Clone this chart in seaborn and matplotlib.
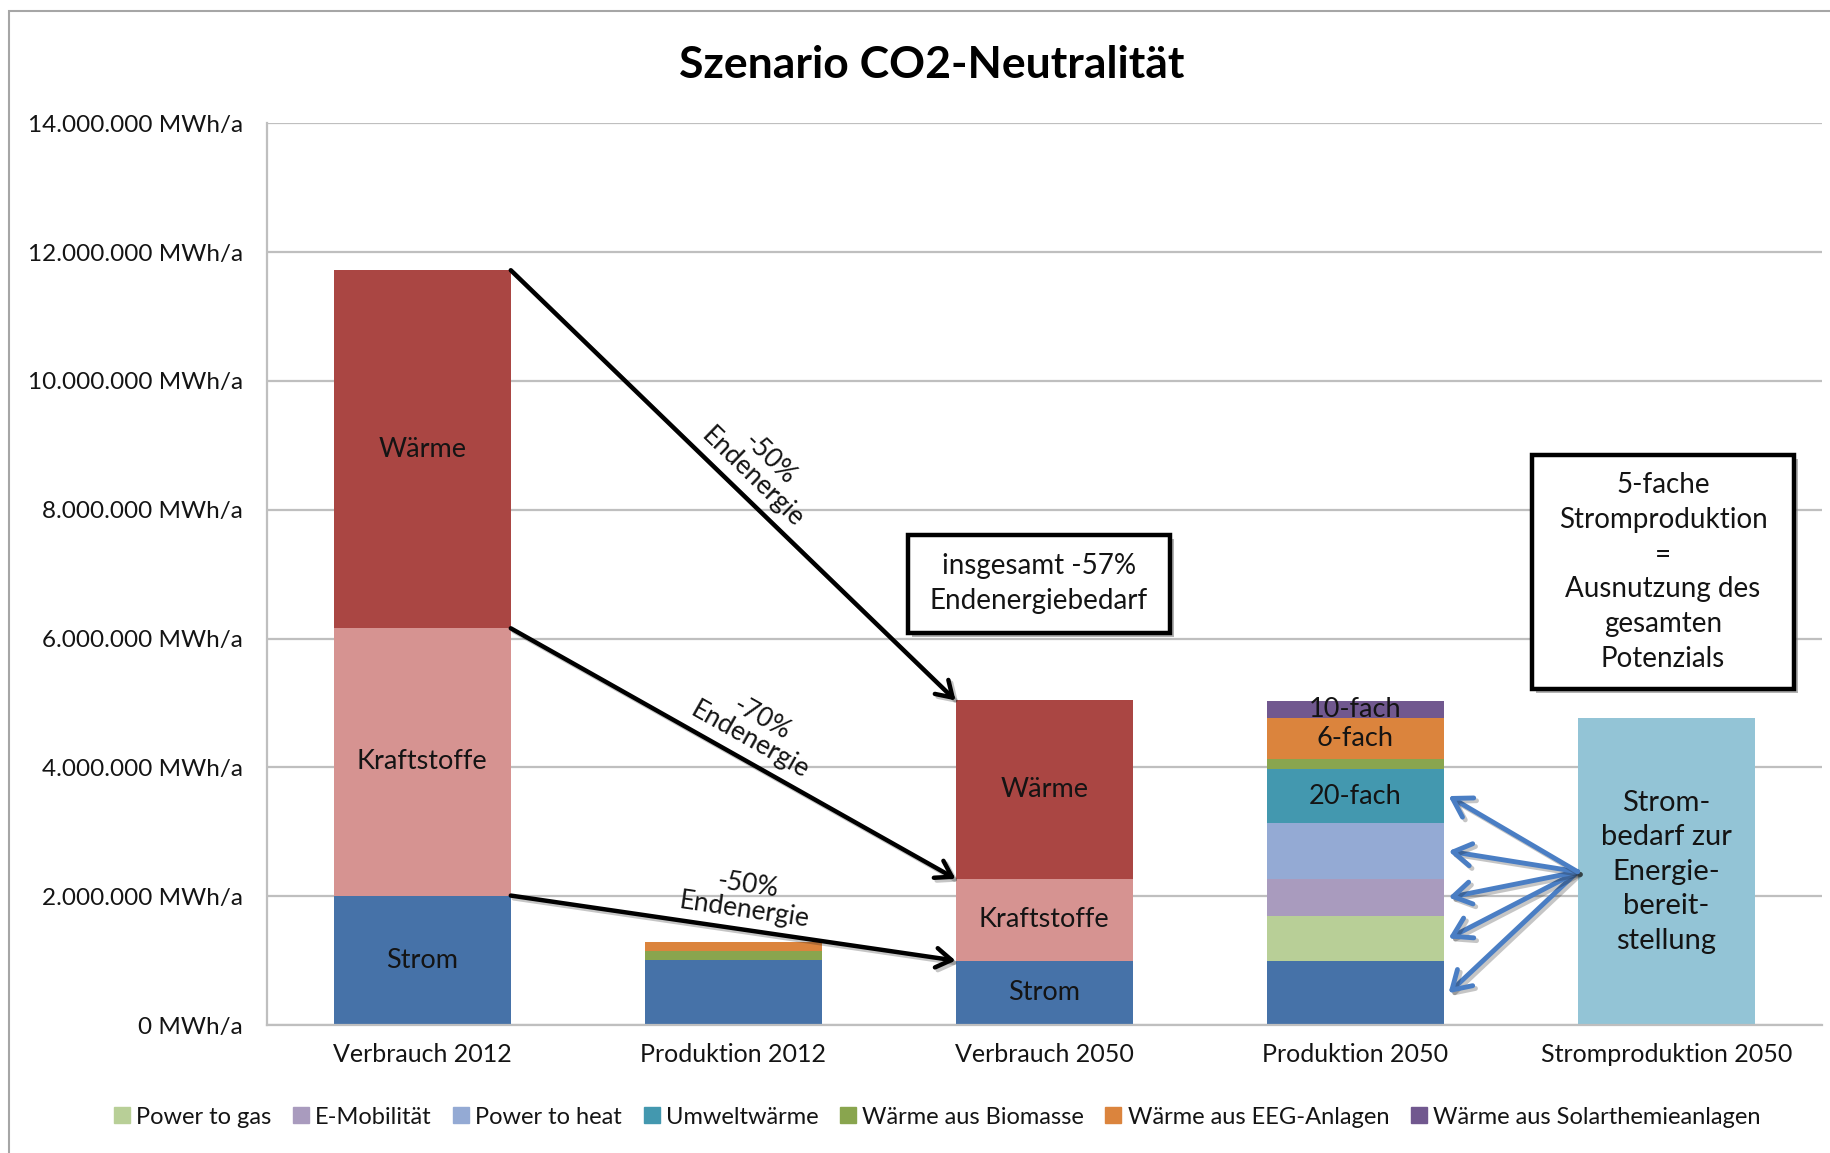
"""Stacked energy bars for the CO2-neutrality scenario (Verbrauch vs. Produktion)."""

import matplotlib

matplotlib.use("Agg")

import matplotlib.patheffects as pe
import matplotlib.pyplot as plt
import numpy as np
import pandas as pd
import seaborn as sns
from matplotlib.lines import Line2D
from matplotlib.patches import FancyArrowPatch, Rectangle
from matplotlib.transforms import offset_copy

# --- data (MWh/a) ---------------------------------------------------------
CATEGORIES = ["Verbrauch 2012", "Produktion 2012", "Verbrauch 2050", "Produktion 2050", "Stromproduktion 2050"]

# stacking order from bottom to top
LAYERS = [
    "Strom",
    "Kraftstoffe",
    "Wärme",
    "Power to gas",
    "E-Mobilität",
    "Power to heat",
    "Umweltwärme",
    "Wärme aus Biomasse",
    "Wärme aus EEG-Anlagen",
    "Wärme aus Solarthemieanlagen",
    "Strombedarf",
]
STROM = [2_010_000, 1_010_000, 1_000_000, 990_000, 0]
KRAFTSTOFFE = [4_150_000, 0, 1_270_000, 0, 0]
WAERME = [5_560_000, 0, 2_770_000, 0, 0]
POWER_TO_GAS = [0, 0, 0, 710_000, 0]
E_MOBILITAET = [0, 0, 0, 560_000, 0]
POWER_TO_HEAT = [0, 0, 0, 880_000, 0]
UMWELTWAERME = [0, 0, 0, 830_000, 0]
BIOMASSE = [0, 140_000, 0, 160_000, 0]
EEG_ANLAGEN = [0, 140_000, 0, 630_000, 0]
SOLARTHERMIE = [0, 0, 0, 270_000, 0]
STROMBEDARF = [0, 0, 0, 0, 4_760_000]

LAYER_VALUES = [
    STROM, KRAFTSTOFFE, WAERME, POWER_TO_GAS, E_MOBILITAET, POWER_TO_HEAT,
    UMWELTWAERME, BIOMASSE, EEG_ANLAGEN, SOLARTHERMIE, STROMBEDARF,
]

LEGEND_LAYERS = LAYERS[3:10]
SEGMENT_TEXT = {
    ("Verbrauch 2012", "Strom"): "Strom",
    ("Verbrauch 2012", "Kraftstoffe"): "Kraftstoffe",
    ("Verbrauch 2012", "Wärme"): "Wärme",
    ("Verbrauch 2050", "Strom"): "Strom",
    ("Verbrauch 2050", "Kraftstoffe"): "Kraftstoffe",
    ("Verbrauch 2050", "Wärme"): "Wärme",
    ("Produktion 2050", "Umweltwärme"): "20-fach",
    ("Produktion 2050", "Wärme aus EEG-Anlagen"): "6-fach",
    ("Produktion 2050", "Wärme aus Solarthemieanlagen"): "10-fach",
    ("Stromproduktion 2050", "Strombedarf"): "Strom-\nbedarf zur\nEnergie-\nbereit-\nstellung",
}
ARROW_LABELS = ["-50%\nEndenergie", "-70%\nEndenergie", "-50%\nEndenergie"]
BLUE_ARROW_TARGETS = ["Strom", "Power to gas", "E-Mobilität", "Power to heat", "Umweltwärme"]

# callout boxes: (x_left, x_right, y_bottom, y_top) in data units, text
CALLOUTS = [
    ((1.562, 2.405, 6_090_000, 7_610_000), "insgesamt -57%\nEndenergiebedarf"),
    ((3.568, 4.411, 5_220_000, 8_850_000),
     "5-fache\nStromproduktion\n=\nAusnutzung des\ngesamten\nPotenzials"),
]

COLORS = {
    "Strom": "#4672A8",
    "Kraftstoffe": "#D69391",
    "Wärme": "#AA4643",
    "Power to gas": "#B8CF97",
    "E-Mobilität": "#A99BBE",
    "Power to heat": "#94AAD4",
    "Umweltwärme": "#4398AF",
    "Wärme aus Biomasse": "#89A54E",
    "Wärme aus EEG-Anlagen": "#DB843D",
    "Wärme aus Solarthemieanlagen": "#71588F",
    "Strombedarf": "#93C4D6",
}

BAR_WIDTH = 0.57
FONT = ["Lato", "DejaVu Sans"]
TEXT_COLOR = "#141414"


def fmt_mwh(value: float) -> str:
    return f"{value:,.0f}".replace(",", ".") + " MWh/a"


def main() -> None:
    sns.set_theme(style="white")
    plt.rcParams["font.family"] = FONT

    values = np.array(LAYER_VALUES, dtype=float)  # layers x categories
    tops = np.cumsum(values, axis=0)
    bottoms = tops - values

    # long-form table with cumulative heights; later hues overdraw earlier ones
    rows = []
    for i, layer in enumerate(LAYERS):
        for j, cat in enumerate(CATEGORIES):
            rows.append({"category": cat, "layer": layer, "top": tops[i, j]})
    df = pd.DataFrame(rows)

    fig = plt.figure(figsize=(18.3, 11.53), dpi=100)
    ax = fig.add_axes([0.1457, 0.111, 0.8498, 0.782])

    sns.barplot(
        data=df,
        x="category",
        y="top",
        hue="layer",
        order=CATEGORIES,
        hue_order=LAYERS[::-1],
        palette=COLORS,
        dodge=False,
        width=BAR_WIDTH,
        saturation=1,
        linewidth=0,
        legend=False,
        ax=ax,
    )

    ax.set_xlim(-0.5, len(CATEGORIES) - 0.5)
    ax.set_ylim(0, 14_000_000)
    yticks = np.arange(0, 14_000_001, 2_000_000)
    ax.set_yticks(yticks)
    ax.set_yticklabels([fmt_mwh(v) for v in yticks])
    ax.set_xlabel("")
    ax.set_ylabel("")
    ax.tick_params(axis="y", labelsize=17.5, pad=17, length=0, colors=TEXT_COLOR)
    ax.tick_params(axis="x", labelsize=18, pad=13, length=0, colors=TEXT_COLOR)
    ax.yaxis.grid(True, color="#BFBFBF", linewidth=1.6)
    ax.set_axisbelow(True)
    for side in ("top", "right"):
        ax.spines[side].set_visible(False)
    for side in ("left", "bottom"):
        ax.spines[side].set_color("#BFBFBF")
        ax.spines[side].set_linewidth(1.6)

    # segment labels
    for (cat, layer), text in SEGMENT_TEXT.items():
        i, j = LAYERS.index(layer), CATEGORIES.index(cat)
        y = (bottoms[i, j] + tops[i, j]) / 2
        multi = "\n" in text
        ax.text(j, y, text, ha="center", va="center", fontsize=21 if multi else 19.5,
                color=TEXT_COLOR, linespacing=1.4 if multi else 1.2)

    # black reduction arrows between Verbrauch 2012 and Verbrauch 2050
    shadow = [pe.SimpleLineShadow(offset=(2, -2), alpha=0.25), pe.Normal()]
    v12, v50 = CATEGORIES.index("Verbrauch 2012"), CATEGORIES.index("Verbrauch 2050")
    x0, x1 = v12 + BAR_WIDTH / 2, v50 - BAR_WIDTH / 2
    levels = [LAYERS.index("Wärme"), LAYERS.index("Kraftstoffe"), LAYERS.index("Strom")]
    for lvl, label in zip(levels, ARROW_LABELS):
        y0, y1 = tops[lvl, v12], tops[lvl, v50]
        arrow = FancyArrowPatch((x0, y0), (x1, y1), arrowstyle="->,head_length=11,head_width=7",
                                color="black", lw=3.2, shrinkA=0, shrinkB=0, mutation_scale=1,
                                path_effects=shadow)
        ax.add_patch(arrow)
        p0 = ax.transData.transform((x0, y0))
        p1 = ax.transData.transform((x1, y1))
        theta = np.arctan2(p1[1] - p0[1], p1[0] - p0[0])
        # push the label a little off the line, perpendicular to it
        nx, ny = -np.sin(theta) * 5, np.cos(theta) * 5
        trans = offset_copy(ax.transData, fig=fig, x=nx + np.cos(theta) * 6, y=ny + np.sin(theta) * 6,
                            units="points")
        ax.text((x0 + x1) / 2, (y0 + y1) / 2, label, rotation=np.degrees(theta), rotation_mode="anchor",
                ha="center", va="bottom", fontsize=19, color=TEXT_COLOR, linespacing=1.0,
                transform=trans)

    # blue arrows from Strombedarf to the electricity consumers of Produktion 2050
    p50, s50 = CATEGORIES.index("Produktion 2050"), CATEGORIES.index("Stromproduktion 2050")
    src = (s50 - BAR_WIDTH / 2, tops[LAYERS.index("Strombedarf"), s50] / 2)
    for layer in BLUE_ARROW_TARGETS:
        i = LAYERS.index(layer)
        dst = (p50 + BAR_WIDTH / 2 + 0.015, (bottoms[i, p50] + tops[i, p50]) / 2)
        arrow = FancyArrowPatch(src, dst, arrowstyle="->,head_length=13,head_width=8",
                                color="#4A7EC4", lw=3.5, shrinkA=0, shrinkB=0, mutation_scale=1,
                                path_effects=shadow)
        ax.add_patch(arrow)

    # callout boxes with a drop shadow
    box_shadow = [pe.withSimplePatchShadow(offset=(3, -3), shadow_rgbFace="#808080", alpha=0.6)]
    for (xl, xr, yb, yt), text in CALLOUTS:
        box = Rectangle((xl, yb), xr - xl, yt - yb, fc="white", ec="black", lw=3.2, zorder=5,
                        path_effects=box_shadow)
        ax.add_patch(box)
        ax.text((xl + xr) / 2, (yb + yt) / 2, text, ha="center", va="center", fontsize=20,
                color=TEXT_COLOR, linespacing=1.42, zorder=6)

    # title and outer chart frame
    fig.text(0.509, 0.944, "Szenario CO2-Neutralität", ha="center", va="center",
             fontsize=32, fontweight="bold", color="black")
    fig.patches.append(Rectangle((9 / 1830, -0.02), 1.2, 1 - 11 / 1153 + 0.02, transform=fig.transFigure,
                                 fill=False, ec="#A6A6A6", lw=1.5))

    handles = [Line2D([], [], marker="s", linestyle="", markersize=12, color=COLORS[l]) for l in LEGEND_LAYERS]
    fig.legend(handles, LEGEND_LAYERS, loc="center", bbox_to_anchor=(0.511, 0.031), ncol=len(LEGEND_LAYERS),
               frameon=False, fontsize=17, handletextpad=0.1, columnspacing=0.75, handlelength=1.0,
               labelcolor=TEXT_COLOR)

    fig.savefig("out.png", dpi=100)
    plt.close(fig)


if __name__ == "__main__":
    main()
